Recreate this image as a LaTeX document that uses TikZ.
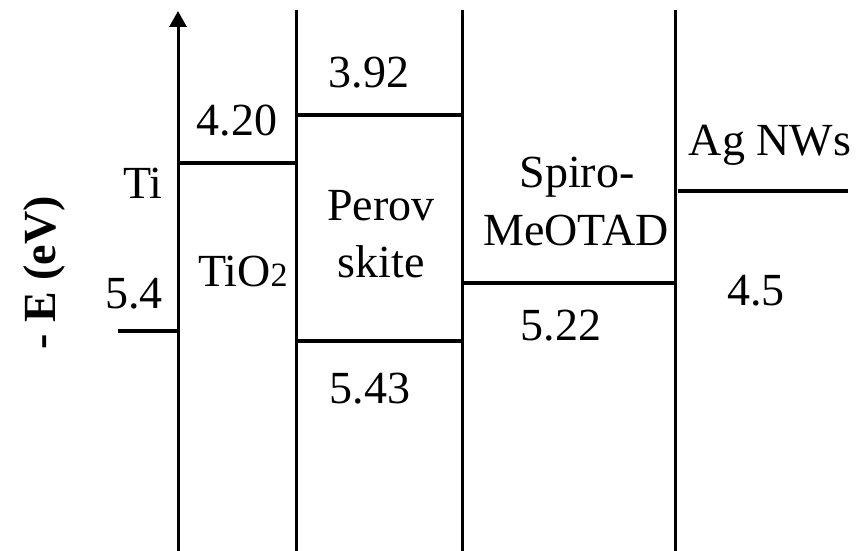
\documentclass[tikz,border=0pt]{standalone}
\usepackage{fontspec}
\setmainfont{Liberation Serif}
\usetikzlibrary{arrows.meta}
\begin{document}
\begin{tikzpicture}[x=1pt,y=-1pt,
  lbl/.style={anchor=base,inner sep=0pt,font=\fontsize{46}{50}\selectfont},
  vline/.style={line width=3pt},
  level/.style={line width=3.5pt}]
\useasboundingbox (0,0) rectangle (859,551);
% axis and column borders
\coordinate (axb) at (178,551); \coordinate (axt) at (178,11);
\draw[vline,-{Triangle[width=17pt,length=16pt]}] (axb) -- (axt);
\foreach \n/\x in {b1/296,b2/462,b3/675}{
  \coordinate (\n t) at (\x,10); \coordinate (\n b) at (\x,551);
  \draw[vline] (\n t) -- (\n b);}
% levels
\coordinate (ti1) at (118,331); \coordinate (ti2) at (178,331);
\draw[level] (ti1) -- (ti2);
\coordinate (tio1) at (178,163); \coordinate (tio2) at (296,163);
\draw[level] (tio1) -- (tio2);
\coordinate (pu1) at (296,115); \coordinate (pu2) at (462,115);
\draw[level] (pu1) -- (pu2);
\coordinate (pl1) at (296,341); \coordinate (pl2) at (462,341);
\draw[level] (pl1) -- (pl2);
\coordinate (sp1) at (462,283); \coordinate (sp2) at (675,283);
\draw[level] (sp1) -- (sp2);
\coordinate (ag1) at (678,191); \coordinate (ag2) at (848,191);
\draw[level] (ag1) -- (ag2);
% labels
\node[lbl] (t392) at (369,88) {3.92};
\node[lbl] (t420) at (237,135) {4.20};
\node[lbl] (tTi) at (143,198) {Ti};
\node[lbl] (t54) at (134,308) {5.4};
\node[lbl] (tTiO) at (243,286) {TiO{\fontsize{34}{40}\selectfont 2}};
\node[lbl] (tPer) at (381,220) {Perov};
\node[lbl] (tSk) at (381,277) {skite};
\node[lbl] (tSp) at (577,187) {Spiro-};
\node[lbl] (tMe) at (576,245) {MeOTAD};
\node[lbl] (t522) at (561,340) {5.22};
\node[lbl] (t45) at (756,305) {4.5};
\node[lbl] (tAg) at (770,155) {Ag NWs};
\node[lbl] (t543) at (370,403) {5.43};
\node[inner sep=0pt,rotate=90,anchor=base,font=\fontsize{46}{50}\selectfont\bfseries] (yl) at (55,273) {- E (eV)};
\end{tikzpicture}
\end{document}
